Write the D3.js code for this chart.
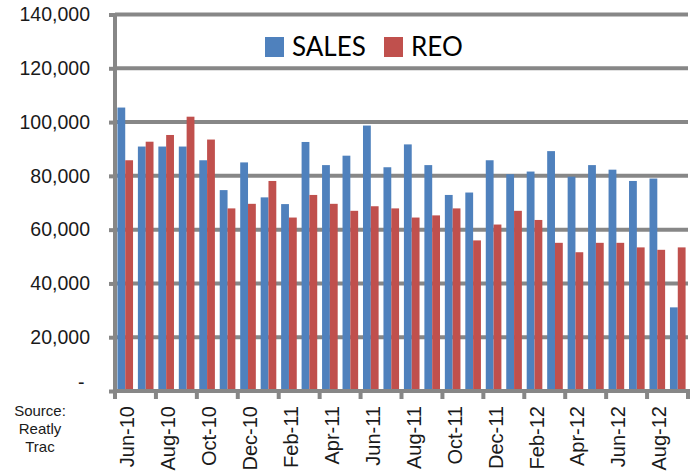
<!DOCTYPE html>
<html>
<head>
<meta charset="utf-8">
<script src="https://cdn.jsdelivr.net/npm/d3@7"></script>
<style>
  body { margin: 0; background: #fff; }
  svg { display: block; }
</style>
</head>
<body>
<div id="chart"></div>
<script>
// months, one bar pair each
var months = ["Jun-10","Jul-10","Aug-10","Sep-10","Oct-10","Nov-10","Dec-10",
  "Jan-11","Feb-11","Mar-11","Apr-11","May-11","Jun-11","Jul-11","Aug-11","Sep-11",
  "Oct-11","Nov-11","Dec-11","Jan-12","Feb-12","Mar-12","Apr-12","May-12","Jun-12",
  "Jul-12","Aug-12","Sep-12"];

var sales = [105400, 90900, 90900, 90900, 85800, 74700, 85000, 72000, 69500, 92600,
  84000, 87500, 98700, 83200, 91700, 84000, 72900, 73800, 85800, 80600, 81600,
  89200, 79700, 84000, 82300, 78100, 79000, 31100];

var reo = [85800, 92700, 95200, 102000, 93500, 67900, 69600, 78100, 64500, 72900,
  69600, 67000, 68700, 67900, 64500, 65300, 67900, 56000, 61900, 67000, 63600,
  55100, 51600, 55100, 55100, 53400, 52500, 53400];

var yTicks = [0, 20000, 40000, 60000, 80000, 100000, 120000, 140000];
var seriesNames = ["SALES", "REO"];
var seriesColors = ["#4f81bd", "#c0504d"];

var svg_width = 699;
var svg_height = 474;

var svg = d3.select("#chart").append("svg")
  .attr("width", svg_width)
  .attr("height", svg_height);

var x_scale = d3.scaleBand()
  .domain(months)
  .range([115, 688]);

var inner = d3.scaleBand()
  .domain(seriesNames)
  .range([0, x_scale.step()])
  .paddingInner(0)
  .paddingOuter(0.31);

var y_scale = d3.scaleLinear()
  .domain([0, 140000])
  .range([391, 14.5]);

var fmt = d3.format(",");
var grey = "#878787";

// gridlines
svg.append("g")
  .selectAll("line")
  .data(yTicks.slice(1))
  .join("line")
  .attr("x1", 115)
  .attr("x2", 688)
  .attr("y1", function(d) { return y_scale(d); })
  .attr("y2", function(d) { return y_scale(d); })
  .attr("stroke", grey)
  .attr("stroke-width", 4);

// bars
var rows = months.map(function(m, i) {
  return { month: m, vals: [sales[i], reo[i]] };
});

var groups = svg.append("g")
  .selectAll("g")
  .data(rows)
  .join("g")
  .attr("transform", function(d) { return "translate(" + x_scale(d.month) + ",0)"; });

groups.selectAll("rect")
  .data(function(d) { return d.vals.map(function(v, j) { return { name: seriesNames[j], v: v, j: j }; }); })
  .join("rect")
  .attr("x", function(d) { return inner(d.name); })
  .attr("width", inner.bandwidth())
  .attr("y", function(d) { return y_scale(d.v); })
  .attr("height", function(d) { return y_scale(0) - y_scale(d.v); })
  .attr("fill", function(d) { return seriesColors[d.j]; });

// y axis
var y_axis = d3.axisLeft(y_scale)
  .tickValues(yTicks)
  .tickSize(6)
  .tickPadding(19)
  .tickFormat(function(d) { return d === 0 ? "" : fmt(d); });

var yg = svg.append("g")
  .attr("transform", "translate(115,0)")
  .call(y_axis);
yg.select(".domain").attr("stroke", grey).attr("stroke-width", 4).attr("d", "M0,14.5V391");
yg.selectAll(".tick line").attr("stroke", grey).attr("stroke-width", 4);
yg.selectAll(".tick text")
  .attr("font-family", "Liberation Sans, Arial, sans-serif")
  .attr("font-size", 19.5)
  .attr("fill", "#1a1a1a");

// zero label shown as a dash
svg.append("text")
  .attr("x", 78)
  .attr("y", 389)
  .attr("font-family", "Liberation Sans, Arial, sans-serif")
  .attr("font-size", 19.5)
  .attr("fill", "#1a1a1a")
  .text("-");

// x axis
var labelMonths = months.filter(function(m, i) { return i % 2 === 0; });

svg.append("line")
  .attr("x1", 113).attr("x2", 690)
  .attr("y1", y_scale(0)).attr("y2", y_scale(0))
  .attr("stroke", grey).attr("stroke-width", 4);

svg.append("g")
  .selectAll("line")
  .data(d3.range(0, months.length + 1, 2))
  .join("line")
  .attr("x1", function(i) { return 115 + i * x_scale.step(); })
  .attr("x2", function(i) { return 115 + i * x_scale.step(); })
  .attr("y1", y_scale(0))
  .attr("y2", y_scale(0) + 8)
  .attr("stroke", grey)
  .attr("stroke-width", 4);

svg.append("g")
  .selectAll("text")
  .data(labelMonths)
  .join("text")
  .attr("transform", function(d) {
    return "translate(" + (x_scale(d) + x_scale.bandwidth() / 2 + 2) + ",406) rotate(-90)";
  })
  .attr("text-anchor", "end")
  .attr("dy", "0.35em")
  .attr("font-family", "Liberation Sans, Arial, sans-serif")
  .attr("font-size", 20)
  .attr("fill", "#1a1a1a")
  .text(function(d) { return d; });

// source note
svg.append("g")
  .selectAll("text")
  .data(["Source:", "Reatly", "Trac"])
  .join("text")
  .attr("x", 40)
  .attr("y", function(d, i) { return 416 + i * 18; })
  .attr("text-anchor", "middle")
  .attr("font-family", "Liberation Sans, Arial, sans-serif")
  .attr("font-size", 15)
  .attr("fill", "#1a1a1a")
  .text(function(d) { return d; });

// legend
var legendX = [265, 384];
var legend = svg.append("g")
  .selectAll("g")
  .data(seriesNames)
  .join("g")
  .attr("transform", function(d, i) { return "translate(" + legendX[i] + ",37)"; });

legend.append("rect")
  .attr("width", 19)
  .attr("height", 20)
  .attr("fill", function(d, i) { return seriesColors[i]; });

legend.append("text")
  .attr("x", 27)
  .attr("y", 19)
  .attr("font-family", "Lato, Carlito, sans-serif")
  .attr("font-size", 26)
  .attr("fill", "#000")
  .text(function(d) { return d; });
</script>
</body>
</html>
